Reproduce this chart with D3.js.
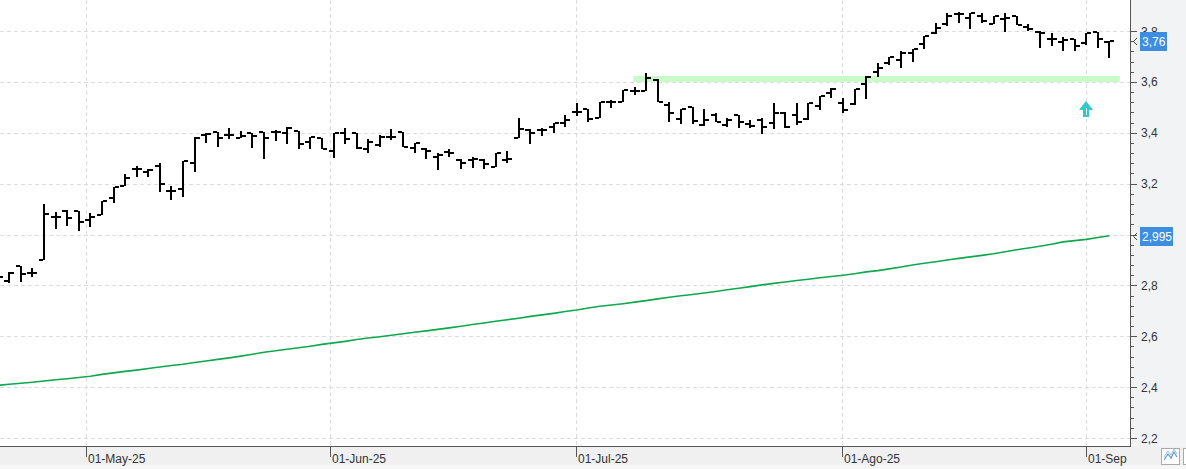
<!DOCTYPE html>
<html>
<head>
<meta charset="utf-8" />
<script src="https://cdn.jsdelivr.net/npm/d3@7"></script>
<style>
  body { margin: 0; background: #fff; overflow: hidden; }
  svg text { font-family: "Liberation Sans", Arial, sans-serif; }
</style>
</head>
<body>
<script>
// daily bars, index -1 .. 95 (trading days, 17-Apr-25 .. 03-Sep-25)
var opens = [2.833, 2.817, 2.876, 2.850, 2.900, 3.068, 3.094, 3.092, 3.057, 3.077, 3.142, 3.191, 3.256, 3.244, 3.271, 3.172, 3.178, 3.282, 3.391, 3.402, 3.391, 3.380, 3.398, 3.402, 3.402, 3.400, 3.407, 3.362, 3.380, 3.328, 3.398, 3.398, 3.335, 3.352, 3.384, 3.402, 3.340, 3.338, 3.303, 3.325, 3.293, 3.293, 3.293, 3.264, 3.293, 3.378, 3.411, 3.411, 3.421, 3.439, 3.483, 3.492, 3.457, 3.522, 3.522, 3.564, 3.564, 3.607, 3.509, 3.454, 3.500, 3.429, 3.470, 3.430, 3.470, 3.433, 3.450, 3.439, 3.479, 3.470, 3.453, 3.506, 3.555, 3.518, 3.513, 3.590, 3.639, 3.675, 3.686, 3.715, 3.749, 3.791, 3.826, 3.867, 3.850, 3.859, 3.827, 3.847, 3.859, 3.817, 3.797, 3.767, 3.758, 3.767, 3.752, 3.795, 3.758];
var highs = [2.841, 2.854, 2.876, 2.868, 3.120, 3.090, 3.096, 3.092, 3.083, 3.132, 3.186, 3.238, 3.269, 3.257, 3.282, 3.191, 3.290, 3.384, 3.398, 3.402, 3.417, 3.408, 3.398, 3.402, 3.411, 3.421, 3.407, 3.384, 3.380, 3.398, 3.417, 3.398, 3.374, 3.391, 3.413, 3.402, 3.361, 3.341, 3.322, 3.335, 3.297, 3.306, 3.296, 3.322, 3.328, 3.457, 3.414, 3.417, 3.439, 3.470, 3.518, 3.492, 3.522, 3.529, 3.568, 3.581, 3.634, 3.610, 3.520, 3.493, 3.500, 3.492, 3.476, 3.457, 3.470, 3.450, 3.457, 3.518, 3.483, 3.516, 3.518, 3.544, 3.575, 3.535, 3.571, 3.622, 3.673, 3.697, 3.723, 3.728, 3.780, 3.833, 3.872, 3.876, 3.870, 3.870, 3.860, 3.870, 3.859, 3.826, 3.800, 3.791, 3.778, 3.767, 3.791, 3.797, 3.762];
var lows = [2.821, 2.811, 2.815, 2.832, 2.899, 3.020, 3.033, 3.015, 3.028, 3.077, 3.125, 3.191, 3.225, 3.227, 3.168, 3.136, 3.146, 3.247, 3.361, 3.345, 3.374, 3.378, 3.339, 3.296, 3.369, 3.355, 3.335, 3.335, 3.335, 3.300, 3.355, 3.336, 3.319, 3.345, 3.371, 3.345, 3.319, 3.296, 3.252, 3.303, 3.256, 3.260, 3.256, 3.264, 3.280, 3.378, 3.355, 3.387, 3.398, 3.421, 3.466, 3.443, 3.457, 3.496, 3.522, 3.548, 3.564, 3.522, 3.441, 3.434, 3.434, 3.428, 3.441, 3.424, 3.417, 3.417, 3.395, 3.414, 3.417, 3.430, 3.450, 3.489, 3.535, 3.476, 3.509, 3.531, 3.618, 3.665, 3.653, 3.677, 3.728, 3.787, 3.820, 3.833, 3.809, 3.833, 3.826, 3.797, 3.824, 3.800, 3.734, 3.741, 3.723, 3.721, 3.745, 3.732, 3.693];
var closes = [2.832, 2.847, 2.844, 2.850, 3.081, 3.068, 3.065, 3.048, 3.070, 3.132, 3.186, 3.221, 3.256, 3.252, 3.199, 3.172, 3.290, 3.378, 3.394, 3.378, 3.391, 3.387, 3.387, 3.378, 3.402, 3.417, 3.355, 3.382, 3.335, 3.398, 3.374, 3.339, 3.362, 3.384, 3.382, 3.345, 3.358, 3.328, 3.314, 3.319, 3.282, 3.298, 3.277, 3.322, 3.297, 3.414, 3.398, 3.411, 3.439, 3.450, 3.483, 3.453, 3.522, 3.522, 3.567, 3.565, 3.616, 3.522, 3.476, 3.493, 3.448, 3.450, 3.443, 3.450, 3.443, 3.428, 3.424, 3.479, 3.421, 3.443, 3.516, 3.544, 3.571, 3.489, 3.571, 3.619, 3.655, 3.697, 3.715, 3.728, 3.780, 3.811, 3.859, 3.867, 3.870, 3.840, 3.860, 3.850, 3.824, 3.807, 3.791, 3.767, 3.765, 3.741, 3.791, 3.767, 3.760];
// long moving average
var ma = [2.407, 2.411, 2.415, 2.419, 2.424, 2.429, 2.433, 2.438, 2.443, 2.450, 2.456, 2.462, 2.467, 2.473, 2.479, 2.485, 2.490, 2.497, 2.503, 2.509, 2.515, 2.522, 2.529, 2.537, 2.543, 2.549, 2.555, 2.561, 2.568, 2.574, 2.580, 2.587, 2.593, 2.598, 2.604, 2.610, 2.616, 2.621, 2.627, 2.633, 2.639, 2.646, 2.652, 2.659, 2.665, 2.671, 2.678, 2.684, 2.690, 2.697, 2.703, 2.711, 2.718, 2.723, 2.728, 2.734, 2.740, 2.747, 2.753, 2.759, 2.764, 2.770, 2.776, 2.783, 2.789, 2.795, 2.802, 2.808, 2.813, 2.819, 2.824, 2.830, 2.835, 2.840, 2.846, 2.853, 2.858, 2.865, 2.872, 2.880, 2.887, 2.893, 2.900, 2.906, 2.912, 2.918, 2.924, 2.932, 2.940, 2.947, 2.954, 2.962, 2.971, 2.976, 2.981, 2.988, 2.995];

var monthTicks = [6.6, 27.7, 48.95, 71.9, 92.95];
var monthLabels = ["01-May-25", "01-Jun-25", "01-Jul-25", "01-Ago-25", "01-Sep-25"];
var priceTicks = [2.2, 2.4, 2.6, 2.8, 3.0, 3.2, 3.4, 3.6, 3.8];
var lastPrice = 3.76, lastMa = 2.995;
var zoneFrom = 53.9, zoneTo = 95.9, zoneLow = 3.600, zoneHigh = 3.623;
var arrowIdx = 93, arrowPrice = 3.462;

var W = 1186, H = 469, axisX = 1131, axisY = 446;

var svg = d3.select("body").append("svg").attr("width", W).attr("height", H);

var x = d3.scaleLinear().domain([-1, 95]).range([-2.28, 1109.4]);
var y = d3.scaleLinear().domain([2.2, 3.8]).range([438, 31]);

var defs = svg.append("defs");
defs.append("clipPath").attr("id", "plot")
  .append("rect").attr("x", 0).attr("y", 0).attr("width", axisX).attr("height", axisY);
defs.append("clipPath").attr("id", "xlab")
  .append("rect").attr("x", 0).attr("y", axisY).attr("width", axisX - 4).attr("height", H - axisY);
// price labels are partly covered by the value tags
defs.append("clipPath").attr("id", "ylab")
  .append("rect").attr("x", axisX).attr("y", 0).attr("width", W - axisX).attr("height", Math.round(y(lastPrice)) - 9);

var plot = svg.append("g").attr("clip-path", "url(#plot)");

// grid
plot.selectAll(".hg").data(priceTicks).enter().append("line")
  .attr("x1", 0).attr("x2", axisX)
  .attr("y1", function (d) { return Math.round(y(d)) + 0.5; })
  .attr("y2", function (d) { return Math.round(y(d)) + 0.5; })
  .attr("stroke", "#dcdcdc").attr("stroke-dasharray", "4,3");
plot.selectAll(".vg").data(monthTicks).enter().append("line")
  .attr("x1", function (d) { return Math.round(x(d)) + 0.5; })
  .attr("x2", function (d) { return Math.round(x(d)) + 0.5; })
  .attr("y1", 0).attr("y2", axisY)
  .attr("stroke", "#dcdcdc").attr("stroke-dasharray", "4,3");

// support zone
plot.append("rect")
  .attr("x", x(zoneFrom)).attr("width", x(zoneTo) - x(zoneFrom))
  .attr("y", y(zoneHigh)).attr("height", y(zoneLow) - y(zoneHigh))
  .attr("fill", "#c8fbc8");

// moving average
plot.append("path").datum(ma)
  .attr("d", d3.line().x(function (d, i) { return x(i - 1); }).y(function (d) { return y(d); }))
  .attr("fill", "none").attr("stroke", "#0ea84c").attr("stroke-width", 1.6);

// OHLC bars
var bars = plot.selectAll(".bar").data(highs).enter().append("g");
bars.append("rect")
  .attr("x", function (d, i) { return Math.round(x(i - 1)) - 1; })
  .attr("width", 2)
  .attr("y", function (d) { return Math.round(y(d)); })
  .attr("height", function (d, i) { return Math.max(2, Math.round(y(lows[i])) - Math.round(y(d))); })
  .attr("fill", "#000");
bars.append("rect")
  .attr("x", function (d, i) { return Math.round(x(i - 1)) - 5; })
  .attr("width", 4)
  .attr("y", function (d, i) { return Math.round(y(opens[i])) - 1; })
  .attr("height", 2).attr("fill", "#000");
bars.append("rect")
  .attr("x", function (d, i) { return Math.round(x(i - 1)) + 1; })
  .attr("width", 4)
  .attr("y", function (d, i) { return Math.round(y(closes[i])) - 1; })
  .attr("height", 2).attr("fill", "#000");

// buy arrow
var ax = Math.round(x(arrowIdx)), ay = y(arrowPrice);
plot.append("path")
  .attr("d", "M" + ax + "," + (ay - 16) + "L" + (ax + 7) + "," + (ay - 7) + "L" + (ax + 3) + "," + (ay - 7) +
    "L" + (ax + 3) + "," + ay + "L" + (ax - 3) + "," + ay + "L" + (ax - 3) + "," + (ay - 7) +
    "L" + (ax - 7) + "," + (ay - 7) + "Z")
  .attr("fill", "#2ec9cc");
plot.append("line").attr("x1", ax + 0.5).attr("x2", ax + 0.5).attr("y1", ay - 9).attr("y2", ay - 2)
  .attr("stroke", "#fff").attr("stroke-width", 1);

// bottom axis strip
svg.append("rect").attr("x", 0).attr("y", axisY).attr("width", W).attr("height", H - axisY).attr("fill", "#f0f0f0");
svg.append("rect").attr("x", 0).attr("y", 465).attr("width", W).attr("height", 4).attr("fill", "#f7f7f7");

var xl = svg.append("g");
xl.selectAll("line").data(monthTicks).enter().append("line")
  .attr("x1", function (d) { return Math.round(x(d)) + 0.5; })
  .attr("x2", function (d) { return Math.round(x(d)) + 0.5; })
  .attr("y1", axisY).attr("y2", axisY + 11)
  .attr("stroke", "#555");
xl.append("g").attr("clip-path", "url(#xlab)")
  .selectAll("text").data(monthTicks).enter().append("text")
  .attr("x", function (d) { return Math.round(x(d)) + 2; })
  .attr("y", 463)
  .attr("font-size", 12).attr("fill", "#333")
  .text(function (d, i) { return monthLabels[i]; });

// right axis panel
svg.append("rect").attr("x", axisX).attr("y", 0).attr("width", W - axisX).attr("height", axisY).attr("fill", "#f2f3f5");
svg.append("line").attr("x1", 0).attr("x2", axisX).attr("y1", axisY + 0.5).attr("y2", axisY + 0.5).attr("stroke", "#555");
svg.append("line").attr("x1", axisX - 0.5).attr("x2", axisX - 0.5).attr("y1", 0).attr("y2", axisY + 1).attr("stroke", "#555");

var minor = d3.range(2.2, 3.84, 0.04);
svg.selectAll(".mt").data(minor).enter().append("line")
  .attr("x1", axisX).attr("x2", axisX + 3)
  .attr("y1", function (d) { return Math.round(y(d)) + 0.5; })
  .attr("y2", function (d) { return Math.round(y(d)) + 0.5; })
  .attr("stroke", "#555");
svg.selectAll(".Mt").data(priceTicks).enter().append("line")
  .attr("x1", axisX).attr("x2", axisX + 6)
  .attr("y1", function (d) { return Math.round(y(d)) + 0.5; })
  .attr("y2", function (d) { return Math.round(y(d)) + 0.5; })
  .attr("stroke", "#555");

// labels hidden behind a value tag are left out, the top one is cut by its tag
var shownTicks = priceTicks.filter(function (d) { return Math.abs(y(d) - y(lastMa)) > 12; });
svg.selectAll(".yl").data(shownTicks).enter().append("text")
  .attr("x", axisX + 10)
  .attr("y", function (d) { return y(d) + 4.5; })
  .attr("font-size", 12).attr("fill", "#333")
  .attr("clip-path", function (d) { return Math.abs(y(d) - y(lastPrice)) < 12 ? "url(#ylab)" : null; })
  .text(function (d) { return d3.format(".1f")(d).replace(".", ","); });

// last value tags
function tag(v, label, w) {
  var ty = Math.round(y(v));
  svg.append("rect").attr("x", axisX + 9).attr("y", ty - 9).attr("width", w).attr("height", 19).attr("fill", "#3d8ee0");
  svg.append("text").attr("x", axisX + 11).attr("y", ty + 5)
    .attr("font-size", 12).attr("fill", "#fff").text(label);
  svg.append("path").attr("d", "M" + (axisX + 6) + "," + (ty - 3) + "L" + (axisX + 2.5) + "," + (ty + 0.5) + "L" + (axisX + 6) + "," + (ty + 4))
    .attr("fill", "none").attr("stroke", "#444").attr("stroke-width", 1);
}
tag(lastPrice, "3,76", 27);
tag(lastMa, "2,995", 33);

// corner buttons
svg.append("rect").attr("x", 1161.5).attr("y", 448.5).attr("width", 18).attr("height", 16).attr("fill", "#fff").attr("stroke", "#aaa");
svg.append("path").attr("d", "M1164,460L1168,454L1171,458L1174,452L1177,457").attr("fill", "none").attr("stroke", "#5a9bd8").attr("stroke-width", 1.2);
svg.append("path").attr("d", "M1164,457L1168,451L1171,455L1174,449L1177,454").attr("fill", "none").attr("stroke", "#9cc4ea").attr("stroke-width", 1);
svg.append("rect").attr("x", 1183.5).attr("y", 448.5).attr("width", 10).attr("height", 16).attr("fill", "#fff").attr("stroke", "#aaa");
</script>
</body>
</html>
